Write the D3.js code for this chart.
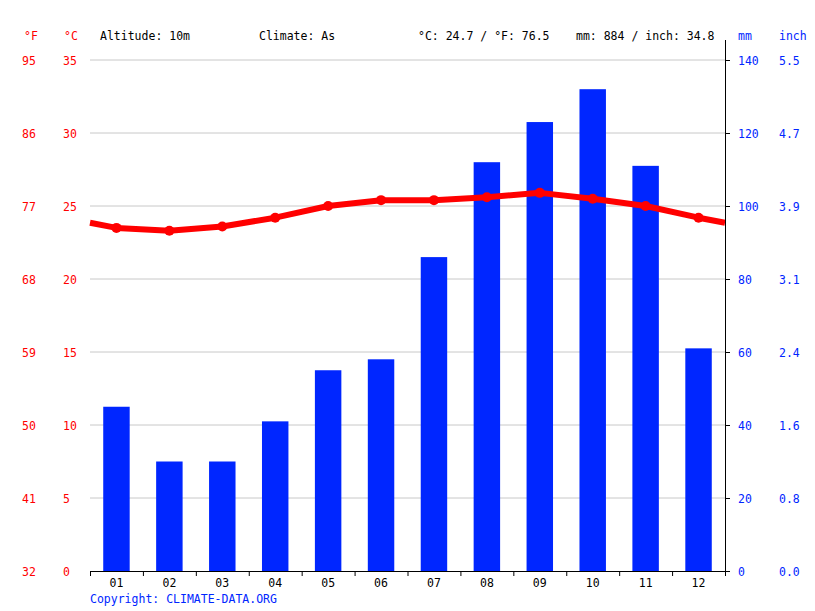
<!DOCTYPE html>
<html>
<head>
<meta charset="utf-8">
<script src="https://cdn.jsdelivr.net/npm/d3@7"></script>
<style>
  html, body { margin: 0; padding: 0; background: #fff; }
  svg { display: block; }
  text { font-family: "DejaVu Sans Mono", "Liberation Mono", monospace; font-size: 11.5px; }
</style>
</head>
<body>
<svg id="chart" width="815" height="611"></svg>
<script>
const months = ["01","02","03","04","05","06","07","08","09","10","11","12"];
const tempC = [23.5, 23.3, 23.6, 24.2, 25.0, 25.4, 25.4, 25.6, 25.9, 25.5, 25.0, 24.2];
const precipMm = [45, 30, 30, 41, 55, 58, 86, 112, 123, 132, 111, 61];
const tempTicksC = [0, 5, 10, 15, 20, 25, 30, 35];
const tempTicksF = [32, 41, 50, 59, 68, 77, 86, 95];
const precipTicks = [0, 20, 40, 60, 80, 100, 120, 140];
const inchTicks = ["0.0", "0.8", "1.6", "2.4", "3.1", "3.9", "4.7", "5.5"];
const headerTexts = [
  {t: "Altitude: 10m", x: 100},
  {t: "Climate: As", x: 259},
  {t: "°C: 24.7 / °F: 76.5", x: 418},
  {t: "mm: 884 / inch: 34.8", x: 576}
];

const RED = "#ff0000", BLUE = "#0026ff";
const L = 90, R = 725, T = 60, B = 571;
const svg = d3.select("#chart");

const x = d3.scaleBand().domain(months).range([L, R]).paddingInner(0.5).paddingOuter(0.25);
const xEdge = d3.scaleLinear().domain([0, 12]).range([L, R]);
const yT = d3.scaleLinear().domain([0, 35]).range([B, T]);
const yP = d3.scaleLinear().domain([0, 140]).range([B, T]);

// gridlines
svg.append("g").selectAll("line").data(tempTicksC.slice(1)).join("line")
  .attr("x1", L).attr("x2", R)
  .attr("y1", d => yT(d)).attr("y2", d => yT(d))
  .attr("stroke", "#c8c8c8").attr("stroke-width", 1);

// bars
svg.append("g").selectAll("rect").data(precipMm).join("rect")
  .attr("x", (d, i) => x(months[i]))
  .attr("width", x.bandwidth())
  .attr("y", d => yP(d))
  .attr("height", d => yP(0) - yP(d))
  .attr("fill", BLUE);

// temperature line with wrap-around edges
const edgeVal = (tempC[0] + tempC[11]) / 2;
const linePts = [[L, yT(edgeVal)]]
  .concat(tempC.map((d, i) => [x(months[i]) + x.bandwidth() / 2, yT(d)]))
  .concat([[R, yT(edgeVal)]]);
svg.append("path").datum(linePts)
  .attr("d", d3.line())
  .attr("fill", "none").attr("stroke", RED).attr("stroke-width", 6)
  .attr("stroke-linejoin", "round");
svg.append("g").selectAll("circle").data(tempC).join("circle")
  .attr("cx", (d, i) => x(months[i]) + x.bandwidth() / 2)
  .attr("cy", d => yT(d)).attr("r", 5).attr("fill", RED);

// bottom axis: edge ticks
const bottomTicks = svg.append("g").attr("transform", `translate(0,${B})`)
  .call(d3.axisBottom(xEdge).tickValues(d3.range(0, 13)).tickSize(5).tickFormat(""));
bottomTicks.select(".domain").remove();
bottomTicks.selectAll("line").attr("stroke", "#000");
svg.append("line").attr("x1", L).attr("x2", R + 0.5).attr("y1", B + 0.5).attr("y2", B + 0.5)
  .attr("stroke", "#000").attr("stroke-width", 1);

// month labels
const monthAxis = svg.append("g").attr("transform", `translate(0,${B})`)
  .call(d3.axisBottom(x).tickSize(0).tickPadding(8));
monthAxis.select(".domain").remove();
monthAxis.selectAll("text").attr("fill", "#000")
  .style("font-family", "DejaVu Sans Mono, monospace").style("font-size", "11.5px");

const styleTicks = (g, color) => {
  g.select(".domain").remove();
  g.selectAll("text").attr("fill", color).attr("dy", "0.42em")
    .style("font-family", "DejaVu Sans Mono, monospace").style("font-size", "11.5px");
};

// right axis (mm)
svg.append("line").attr("x1", R + 0.5).attr("x2", R + 0.5).attr("y1", 40).attr("y2", B + 1)
  .attr("stroke", "#000").attr("stroke-width", 1);
const rAxis = svg.append("g").attr("transform", `translate(${R},0)`)
  .call(d3.axisRight(yP).tickValues(precipTicks).tickSize(5).tickPadding(8));
rAxis.selectAll("line").attr("stroke", "#000");
styleTicks(rAxis, BLUE);

// inch axis
const iAxis = svg.append("g").attr("transform", `translate(779,0)`)
  .call(d3.axisRight(yP).tickValues(precipTicks).tickSize(0).tickPadding(0)
    .tickFormat((d, i) => inchTicks[i]));
styleTicks(iAxis, BLUE);

// left axes (°C and °F)
const cAxis = svg.append("g").attr("transform", `translate(63,0)`)
  .call(d3.axisRight(yT).tickValues(tempTicksC).tickSize(0).tickPadding(0));
styleTicks(cAxis, RED);

const fAxis = svg.append("g").attr("transform", `translate(22,0)`)
  .call(d3.axisRight(yT).tickValues(tempTicksC).tickSize(0).tickPadding(0)
    .tickFormat((d, i) => tempTicksF[i]));
styleTicks(fAxis, RED);

// header
const hy = 40;
svg.append("text").attr("x", 24).attr("y", hy).attr("fill", RED).text("°F");
svg.append("text").attr("x", 64).attr("y", hy).attr("fill", RED).text("°C");
svg.append("g").selectAll("text").data(headerTexts).join("text")
  .attr("x", d => d.x).attr("y", hy).attr("fill", "#000").text(d => d.t);
svg.append("text").attr("x", 738).attr("y", hy).attr("fill", BLUE).text("mm");
svg.append("text").attr("x", 779).attr("y", hy).attr("fill", BLUE).text("inch");

// copyright
svg.append("text").attr("x", 90).attr("y", 603).attr("fill", BLUE).text("Copyright: CLIMATE-DATA.ORG");
</script>
</body>
</html>
